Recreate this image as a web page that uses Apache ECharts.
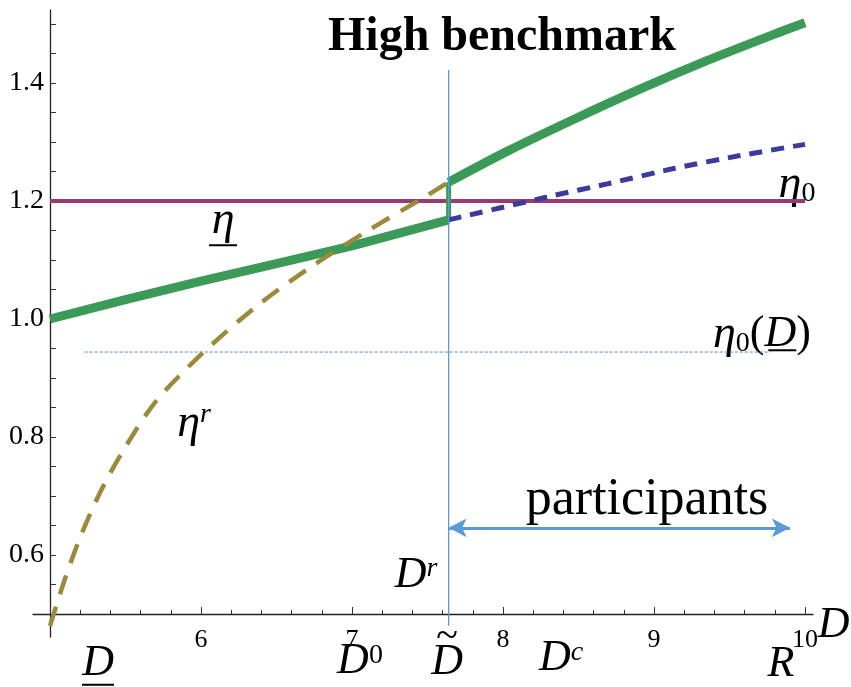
<!DOCTYPE html>
<html>
<head>
<meta charset="utf-8">
<script src="https://cdn.jsdelivr.net/npm/echarts@6/dist/echarts.min.js"></script>
<style>
  html, body { margin: 0; padding: 0; background: #ffffff; }
  #chart { width: 851px; height: 687px; }
</style>
</head>
<body>
<div id="chart"></div>
<script>
// ---------- values ----------
const titleText = 'High benchmark';
const yLabelValues = [0.6, 0.8, 1.0, 1.2, 1.4];
const dTilde = 7.64;

// eta_0 : flat benchmark level
const eta0Level = [[5, 1.2], [10, 1.2]];
// eta_0(D) : thin reference level
const eta0AtDLower = [[5.23, 0.944], [9.77, 0.944]];
// vertical marker at D-tilde
const dTildeMarker = [[dTilde, 0.48], [dTilde, 1.422]];
// eta^r : dashed curve
const etaR = [[5.0, 0.48], [5.1, 0.56], [5.2, 0.63], [5.33, 0.705], [5.48, 0.775], [5.7, 0.86],
              [6.01, 0.942], [6.37, 1.022], [6.72, 1.087], [7.1, 1.149], [7.47, 1.205], [dTilde, 1.232]];
// continuation of eta_0 above D-tilde (dashed)
const eta0Dashed = [[dTilde, 1.168], [8.33, 1.209], [8.69, 1.229], [9.13, 1.255], [9.57, 1.277], [10, 1.296]];
// solid green schedule: below D-tilde, jump, above D-tilde
const greenLow = [[5, 1.0], [5.5, 1.033], [6, 1.064], [6.5, 1.094], [7, 1.124], [dTilde, 1.168]];
const greenJump = [[dTilde, 1.168], [dTilde, 1.232]];
const greenHigh = [[dTilde, 1.232], [8.03, 1.2845], [8.46, 1.3373], [8.91, 1.3899], [9.35, 1.4378], [9.79, 1.482], [10, 1.502]];
// participants range arrow
const participantsRange = [[dTilde, 0.646], [9.9, 0.646]];

// text annotations placed in data coordinates
const annotations = [
  { at: [6.146, 1.164], text: '{it|η}\n{ul|}' },
  { at: [5.954, 0.822], text: '{it|η}{supi|r}' },
  { at: [9.947, 1.227], text: '{it|η}{sub|0}' },
  { at: [9.715, 0.973], text: '{it|η}{sub|0}{rm|(}{itD|D}{rm|)}' },
  { at: [9.85, 0.947], text: '{ulS|}' },
  { at: [7.424, 0.566], text: '{itD|D}{supi|r}' },
  { at: [8.954, 0.693], text: '{big|participants}' },
  { at: [10.19, 0.48], text: '{itD|D}' },
  { at: [5.318, 0.414], text: '{itD|D}\n{ulD|}' },
  { at: [7.053, 0.42], text: '{itD|D}{sup|0}' },
  { at: [7.63, 0.427], text: '{tl|~}\n{itD|D}' },
  { at: [8.384, 0.425], text: '{itD|D}{supi|c}' },
  { at: [9.84, 0.415], text: '{itD|R}' }
];

// ---------- styling ----------
const SERIF = 'Liberation Serif';
const C_GREEN = '#3c9a58';
const C_MAGENTA = '#9a3a70';
const C_OLIVE = '#9a8a3a';
const C_NAVY = '#3b3b9e';
const C_SKY = '#5a9ad8';
const C_SKY_DARK = '#4a8cd6';

const rich = {
  it:   { fontFamily: SERIF, fontStyle: 'italic', fontSize: 46, color: '#000', lineHeight: 46 },
  itD:  { fontFamily: SERIF, fontStyle: 'italic', fontSize: 44, color: '#000', lineHeight: 40 },
  rm:   { fontFamily: SERIF, fontSize: 44, color: '#000', lineHeight: 40 },
  sup:  { fontFamily: SERIF, fontSize: 28, color: '#000', verticalAlign: 'top', lineHeight: 28 },
  supi: { fontFamily: SERIF, fontStyle: 'italic', fontSize: 28, color: '#000', verticalAlign: 'top', lineHeight: 28 },
  sub:  { fontFamily: SERIF, fontSize: 28, color: '#000', verticalAlign: 'bottom', lineHeight: 28 },
  big:  { fontFamily: SERIF, fontSize: 52, color: '#000', lineHeight: 52 },
  tl:   { fontFamily: SERIF, fontSize: 40, color: '#000', lineHeight: 10 },
  ul:   { width: 28, height: 2, lineHeight: 2, backgroundColor: '#000', fontSize: 1 },
  ulD:  { width: 32, height: 2, lineHeight: 2, backgroundColor: '#000', fontSize: 1 },
  ulS:  { width: 28, height: 2, lineHeight: 2, backgroundColor: '#000', fontSize: 1 }
};

function lineSeries(data, color, width, type, extra) {
  return Object.assign({
    type: 'line', data: data, xAxisIndex: 0, yAxisIndex: 0,
    showSymbol: false, symbol: 'none', clip: false, silent: true,
    lineStyle: { color: color, width: width, type: type || 'solid', cap: 'butt' }
  }, extra || {});
}

const chart = echarts.init(document.getElementById('chart'), null, { renderer: 'canvas' });

chart.setOption({
  animation: false,
  backgroundColor: '#ffffff',
  title: {
    text: titleText, left: 323, top: 9,
    textStyle: { fontFamily: SERIF, fontWeight: 'bold', fontSize: 48, color: '#000' }
  },
  grid: [
    { left: 50, right: 46, top: 24, bottom: 73 },
    { left: 33, right: 38, top: 10, bottom: 50 }
  ],
  xAxis: [
    {
      gridIndex: 0, type: 'value', min: 5, max: 10, interval: 1,
      axisLine: { show: false },
      splitLine: { show: false },
      axisTick: { show: true, inside: true, length: 7, lineStyle: { color: '#333', width: 1 } },
      minorTick: { show: true, splitNumber: 5, length: 4, lineStyle: { color: '#333', width: 1 } },
      axisLabel: {
        margin: 13, fontFamily: SERIF, fontSize: 26, color: '#000',
        formatter: v => (v === 5 ? '' : String(v))
      }
    },
    {
      gridIndex: 1, type: 'value', min: 4.8874, max: 10.053, offset: -23,
      axisLine: { show: true, onZero: false, lineStyle: { color: '#222', width: 1.3 } },
      axisTick: { show: false }, axisLabel: { show: false }, splitLine: { show: false }
    }
  ],
  yAxis: [
    {
      gridIndex: 0, type: 'value', min: 0.5, max: 1.5, interval: 0.05,
      axisLine: { show: false },
      splitLine: { show: false },
      axisTick: { show: true, inside: true, length: 6, lineStyle: { color: '#333', width: 1 } },
      axisLabel: {
        margin: 6, fontFamily: SERIF, fontSize: 28, color: '#000',
        formatter: v => (yLabelValues.some(t => Math.abs(t - v) < 1e-6) ? v.toFixed(1) : '')
      }
    },
    {
      gridIndex: 1, type: 'value', min: 0.461, max: 1.5237, offset: -17,
      axisLine: { show: true, onZero: false, lineStyle: { color: '#222', width: 1.3 } },
      axisTick: { show: false }, axisLabel: { show: false }, splitLine: { show: false }
    }
  ],
  series: [
    lineSeries(eta0Level, C_MAGENTA, 4),
    lineSeries(eta0AtDLower, C_SKY_DARK, 1, [3, 2]),
    lineSeries(greenLow, C_GREEN, 9),
    lineSeries(greenJump, C_GREEN, 5),
    lineSeries(greenHigh, C_GREEN, 9, 'solid', { smooth: 0.25 }),
    lineSeries(etaR, C_OLIVE, 4.5, [20, 13], { smooth: 0.3 }),
    lineSeries(eta0Dashed, C_NAVY, 5, [13, 9], { smooth: 0.25 }),
    lineSeries(dTildeMarker, C_SKY, 1.3),
    {
      type: 'line', data: [], xAxisIndex: 0, yAxisIndex: 0, silent: true,
      markLine: {
        silent: true, animation: false,
        symbol: ['arrow', 'arrow'], symbolSize: [14, 18],
        label: { show: false },
        lineStyle: { color: C_SKY, width: 3, type: 'solid' },
        data: [[{ coord: participantsRange[0] }, { coord: participantsRange[1] }]]
      }
    },
    {
      type: 'scatter', xAxisIndex: 0, yAxisIndex: 0, clip: false, silent: true,
      symbolSize: 0,
      itemStyle: { opacity: 1 },
      data: annotations.map(a => ({
        value: a.at,
        label: { show: true, position: 'inside', align: 'center', verticalAlign: 'middle',
                 color: '#000', formatter: a.text, rich: rich }
      }))
    }
  ]
});
</script>
</body>
</html>
